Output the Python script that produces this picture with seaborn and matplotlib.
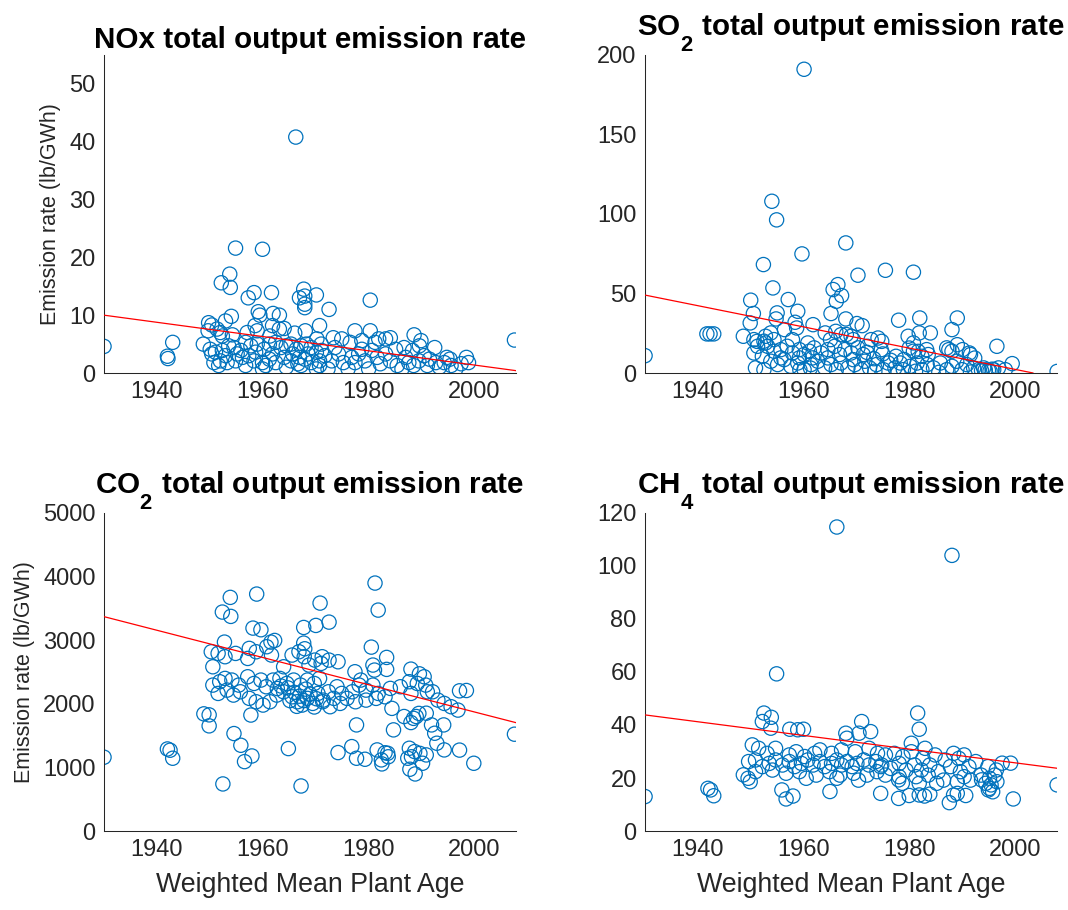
import matplotlib
matplotlib.use("Agg")
import matplotlib.pyplot as plt
import numpy as np
import pandas as pd
import seaborn as sns

# (weighted mean plant age, emission rate in lb/GWh)
nox = [
    (1930.0, 4.6), (1942.0, 2.9), (1942.1, 2.5), (1943.0, 5.3), (1966.3, 40.8),
    (1954.9, 21.6), (1960.0, 21.4), (1953.8, 17.1), (1952.2, 15.6), (1953.9, 14.8),
    (1957.3, 13.0), (1958.4, 13.9), (1961.7, 13.9), (1967.8, 14.5), (1967.0, 13.0),
    (1968.0, 13.3), (1970.2, 13.5), (1968.0, 11.9), (1968.0, 11.3), (1972.6, 11.0),
    (1980.4, 12.6), (1954.1, 9.8), (1953.0, 9.0), (1959.2, 10.6), (1959.5, 10.0),
    (1962.0, 10.3), (1963.2, 10.0), (1970.8, 8.2), (1949.8, 8.7), (1950.4, 8.3),
    (2007.7, 5.7),
    (1951.4, 7.6), (1952.4, 6.4), (1954.3, 6.6), (1957.1, 7.0), (1958.6, 8.2),
    (1959.0, 7.3), (1961.9, 8.2), (1963.2, 7.6), (1964.1, 7.7), (1966.1, 6.9),
    (1968.1, 7.3), (1970.3, 5.9), (1961.4, 6.4), (1949.7, 7.3), (1952.0, 7.0),
    (1948.8, 5.0), (1950.1, 4.1), (1951.1, 3.6), (1952.4, 3.9), (1953.6, 4.7),
    (1954.6, 4.4), (1955.9, 3.9), (1956.8, 5.3), (1957.8, 4.7), (1959.0, 5.0),
    (1960.3, 4.1), (1961.3, 5.0), (1962.5, 5.3), (1963.5, 4.4), (1964.5, 4.7),
    (1965.4, 5.0), (1966.4, 4.1), (1967.3, 4.7), (1968.3, 5.0), (1969.2, 4.4),
    (1970.2, 3.6), (1971.1, 5.0),
    (1950.8, 1.8), (1952.0, 2.1), (1953.3, 1.8), (1954.9, 2.1), (1956.2, 2.7),
    (1957.4, 3.0), (1958.4, 2.1), (1960.0, 1.8), (1961.3, 2.4), (1962.5, 1.8),
    (1964.1, 2.7), (1965.4, 2.1), (1966.7, 1.6), (1968.0, 2.4), (1969.2, 1.8),
    (1970.8, 2.1), (1951.7, 1.3), (1960.0, 0.7), (1964.5, 1.0), (1970.2, 0.7),
    (1953.0, 3.0), (1958.7, 3.6), (1961.9, 3.3), (1965.7, 3.3), (1967.0, 2.7),
    (1968.6, 3.3), (1955.2, 3.3), (1950.4, 3.3), (1960.6, 1.3), (1967.3, 1.3),
    (1956.8, 1.3),
    (1977.5, 7.3), (1980.4, 7.3), (1984.2, 6.1), (1983.3, 5.9), (1988.7, 6.6),
    (1990.0, 5.6), (1989.7, 4.7), (1973.4, 6.1), (1975.0, 5.9), (1976.6, 5.3),
    (1978.8, 5.6), (1981.3, 5.3), (1982.0, 5.9), (1986.8, 4.4), (1992.6, 4.4),
    (1991.6, 2.4), (1994.9, 2.7), (1995.5, 2.4), (1998.6, 2.7), (1999.0, 1.8),
    (1971.2, 3.9), (1971.8, 3.0), (1973.1, 2.1), (1974.4, 3.3), (1975.3, 1.8),
    (1976.9, 2.7), (1977.5, 1.8), (1978.2, 3.3), (1979.4, 2.1), (1980.7, 3.9),
    (1981.7, 2.7), (1982.3, 1.6), (1983.3, 3.3), (1984.2, 2.1), (1985.5, 1.3),
    (1987.1, 2.7), (1987.7, 1.8), (1988.6, 1.3), (1989.6, 2.1), (1990.6, 3.0),
    (1991.2, 1.3), (1992.8, 1.8), (1993.5, 1.0), (1994.4, 1.8), (1995.7, 1.3),
    (1996.6, 0.7), (1997.6, 1.6), (1970.8, 1.3), (1972.4, 0.7), (1976.2, 0.7),
    (1980.1, 0.7), (1986.4, 0.7), (1978.8, 4.1), (1985.2, 4.1), (1988.4, 3.9),
    (1973.7, 4.4),
]

so2 = [
    (1930.0, 10.9), (1941.7, 24.6), (1942.3, 24.6), (1943.0, 24.6), (1960.1, 191.0),
    (1954.0, 108.0), (1954.9, 96.3), (1952.4, 68.2), (1959.7, 74.9), (1968.0, 81.8),
    (1970.3, 61.5), (1975.5, 64.6), (1980.8, 63.4), (1954.2, 53.5), (1950.0, 45.8),
    (1957.1, 46.2), (1965.6, 52.5), (1966.5, 55.6), (1967.2, 48.7), (1966.2, 45.1),
    (1950.5, 37.4), (1949.9, 31.5), (1955.0, 37.8), (1954.8, 34.0), (1958.9, 38.8),
    (1958.4, 31.9), (1958.7, 28.3), (1961.8, 30.4), (1965.2, 37.4), (1968.0, 34.0),
    (1970.1, 31.1), (1971.1, 29.8), (1978.0, 33.2), (1982.0, 34.6), (1984.0, 25.2),
    (1979.8, 23.1), (1981.9, 25.2), (1988.1, 27.3), (1989.1, 34.6), (1996.6, 16.8),
    (1999.5, 5.9), (2008.0, 1.0), (1974.1, 22.0), (1974.8, 19.9), (1948.6, 23.1),
    (1951.2, 19.9), (1953.8, 25.2), (1952.8, 23.1), (1956.4, 27.3), (1964.1, 25.2),
    (1965.1, 21.0), (1966.1, 26.2), (1967.1, 24.1), (1969.0, 23.1), (1980.0, 15.7),
    (1981.7, 13.6), (1983.3, 14.7), (1987.5, 14.7), (1989.1, 17.8), (1990.1, 14.7),
    (1991.4, 12.6), (1992.4, 9.4),
    (1950.6, 21.0), (1952.5, 20.0), (1951.3, 16.8), (1953.2, 16.8), (1950.6, 12.6),
    (1952.2, 10.5), (1954.4, 13.7), (1955.7, 14.7), (1956.9, 16.8), (1957.9, 12.6),
    (1959.2, 14.7), (1960.1, 11.6), (1961.1, 13.7), (1962.0, 15.8), (1963.3, 12.6),
    (1964.6, 14.7), (1965.9, 16.8), (1966.8, 11.6), (1967.8, 14.7), (1969.0, 12.6),
    (1970.3, 15.8), (1971.3, 11.6),
    (1950.9, 3.2), (1952.5, 2.1), (1953.8, 7.4), (1955.1, 5.3), (1956.3, 8.4),
    (1957.6, 4.2), (1958.9, 6.3), (1960.1, 2.1), (1961.4, 5.3), (1962.7, 7.4),
    (1964.0, 3.2), (1965.2, 5.3), (1966.2, 2.1), (1967.1, 6.3), (1968.4, 3.2),
    (1969.7, 5.3), (1970.9, 2.1),
    (1952.8, 18.9), (1954.4, 21.0), (1957.9, 21.0), (1960.8, 18.9), (1968.1, 24.2),
    (1969.4, 21.0), (1961.7, 9.5), (1959.2, 9.5), (1964.6, 9.5), (1969.4, 8.4),
    (1955.7, 9.5), (1959.3, 2.1), (1961.3, 3.1),
    (1980.8, 18.9), (1972.8, 21.0), (1972.1, 16.8), (1974.7, 14.7), (1988.1, 13.7),
    (1991.6, 11.6), (1987.1, 15.8), (1980.8, 13.7), (1982.4, 10.5), (1983.6, 11.6),
    (1972.0, 13.0), (1973.3, 9.0), (1975.0, 12.0), (1976.5, 8.0), (1977.5, 10.5),
    (1979.0, 8.5),
    (1971.6, 7.4), (1972.5, 3.2), (1973.8, 5.3), (1975.1, 2.1), (1976.0, 6.3),
    (1977.3, 3.2), (1978.3, 6.3), (1978.9, 2.1), (1980.2, 4.2), (1981.5, 6.3),
    (1982.4, 2.1), (1983.4, 5.3), (1984.6, 3.2), (1985.9, 6.3), (1987.1, 2.1),
    (1988.1, 4.2), (1989.0, 7.4), (1990.0, 2.1), (1990.9, 5.3), (1992.2, 3.2),
    (1993.1, 2.1), (1994.1, 3.2), (1995.0, 1.7), (1996.0, 2.1), (1996.9, 3.2),
    (1998.2, 2.1), (1973.5, 1.1), (1977.9, 0.4), (1981.2, 1.1), (1985.6, 0.4),
    (1991.6, 0.6), (1993.7, 1.5), (1994.4, 2.0), (1995.3, 1.2), (1995.7, 2.4),
]

co2 = [
    (1930.0, 1160), (1942.0, 1290), (1942.5, 1270), (1943.0, 1144), (1952.5, 740),
    (1967.3, 708), (1964.9, 1296), (1954.6, 1532), (1955.9, 1348), (1956.6, 1091),
    (1958.0, 1180), (1953.9, 3673), (1958.9, 3725), (1970.9, 3583), (1981.3, 3898),
    (1981.9, 3473), (1952.4, 3442), (1954.0, 3374), (1972.6, 3284), (1970.1, 3232),
    (1967.8, 3200), (1958.2, 3190), (1959.7, 3164), (1952.8, 2970), (1961.6, 2970),
    (1962.3, 2996), (1980.6, 2891), (1967.8, 2954), (1968.0, 2865), (1948.9, 1842),
    (1949.9, 1826), (1949.9, 1653), (1977.8, 1668), (1984.8, 1590), (1976.9, 1327),
    (1974.3, 1233), (1977.8, 1144), (1979.4, 1128), (1981.7, 1275), (1982.5, 1118),
    (1982.6, 1055), (1983.7, 1222), (1987.5, 1144), (1987.9, 971), (1988.9, 897),
    (1988.8, 1249), (1990.3, 1065), (1991.0, 1196), (1987.8, 1301), (2000.0, 1065),
    (1994.4, 1275), (1993.0, 1380), (1992.0, 1668), (1992.6, 1537), (1994.3, 1668),
    (2007.7, 1522), (1997.3, 2204), (1998.6, 2209), (1988.1, 2545), (1989.7, 2471),
    (1986.8, 1800), (1988.1, 1705), (1989.1, 1800), (1991.0, 1852),
    (1950.3, 2818), (1951.6, 2792), (1950.6, 2582), (1952.9, 2740), (1954.9, 2792),
    (1957.5, 2871), (1958.8, 2818), (1957.2, 2713), (1960.8, 2897), (1961.7, 2766),
    (1964.0, 2582), (1965.6, 2766), (1966.9, 2818), (1967.9, 2740), (1968.8, 2609),
    (1969.9, 2687), (1971.1, 2635),
    (1950.6, 2294), (1951.9, 2347), (1952.9, 2399), (1954.2, 2373), (1955.5, 2294),
    (1957.2, 2425), (1958.4, 2320), (1959.7, 2373), (1960.7, 2268), (1962.0, 2373),
    (1963.3, 2399), (1964.6, 2320), (1965.9, 2373), (1967.2, 2294), (1968.5, 2373),
    (1969.8, 2320), (1970.8, 2399),
    (1951.6, 2163), (1953.3, 2215), (1954.5, 2137), (1955.8, 2189), (1957.5, 2085),
    (1958.8, 2032), (1960.1, 1980), (1961.4, 2032), (1962.7, 2137), (1964.0, 2189),
    (1965.6, 2110), (1966.6, 2032), (1967.5, 1980), (1968.5, 2085), (1969.5, 2006),
    (1970.5, 2163), (1971.4, 2032), (1957.8, 1823),
    (1964.8, 2250), (1965.2, 2050), (1966.0, 2180), (1966.5, 1960), (1967.0, 2120),
    (1967.8, 2050), (1968.2, 2230), (1969.0, 2150), (1969.8, 1950), (1970.2, 2080),
    (1963.5, 2280), (1962.8, 2240),
    (1983.5, 2729), (1980.9, 2609), (1981.2, 2530), (1983.5, 2541), (1977.5, 2504),
    (1974.3, 2661), (1972.6, 2687), (1971.3, 2740), (1990.6, 2425), (1989.3, 2320),
    (1990.9, 2294), (1991.2, 2189), (1992.2, 2189), (1987.8, 2347), (1988.1, 2163),
    (1986.1, 2268), (1984.2, 2242), (1983.2, 2110), (1981.9, 2163), (1980.9, 2294),
    (1979.6, 2215), (1978.6, 2373), (1978.3, 2294), (1977.0, 2189), (1976.0, 2085),
    (1975.0, 2163), (1974.1, 2268), (1973.5, 2085), (1972.5, 2189), (1971.5, 2058),
    (1972.8, 1954), (1974.7, 2006), (1977.6, 2032), (1979.6, 2058), (1981.5, 2085),
    (1984.5, 1928), (1988.6, 1771), (1989.6, 1849), (1993.2, 2058), (1994.4, 2006),
    (1995.7, 1954), (1997.0, 1901), (1997.3, 1272), (1983.2, 1230), (1983.8, 1167),
    (1988.2, 1167), (1989.8, 1220),
]

ch4 = [
    (1930.0, 13.0), (1941.9, 16.1), (1942.4, 15.5), (1943.0, 13.3), (1966.3, 114.7),
    (1988.1, 104.0), (1954.9, 59.3), (1948.6, 21.2), (1949.5, 19.9), (1949.9, 18.6),
    (1955.9, 15.5), (1956.7, 12.1), (1958.0, 13.2), (1965.0, 14.9), (1974.6, 14.2),
    (1978.0, 12.3), (1980.0, 13.4), (1981.9, 13.6), (1982.9, 13.2), (1983.9, 13.9),
    (1987.6, 10.7), (1989.1, 14.2), (1990.7, 13.4), (1999.7, 12.1), (2008.0, 17.4),
    (1981.6, 44.5), (1981.9, 38.4), (1952.5, 44.5), (1952.2, 41.3), (1953.9, 42.9),
    (1953.8, 38.8), (1971.0, 41.3), (1972.7, 37.5), (1970.5, 36.9), (1968.0, 36.9),
    (1968.2, 35.0), (1957.4, 38.4), (1958.9, 38.2), (1960.0, 38.4), (1997.6, 25.6),
    (1999.2, 25.6), (1996.6, 18.6), (1995.0, 15.5), (1993.7, 19.3), (1985.2, 18.0),
    (1978.0, 19.3), (1988.4, 29.3), (1990.4, 28.7), (1980.4, 33.1), (1983.0, 31.2),
    (1950.3, 32.5), (1951.5, 31.2), (1953.1, 29.3), (1954.7, 31.2), (1957.3, 28.7),
    (1958.6, 29.9), (1960.2, 28.1), (1962.1, 29.3), (1963.1, 30.6), (1965.3, 29.3),
    (1967.2, 30.6), (1969.8, 29.9), (1972.4, 31.2), (1974.0, 29.3),
    (1949.6, 26.2), (1950.9, 26.8), (1952.2, 24.3), (1953.5, 25.5), (1954.7, 26.8),
    (1956.0, 24.9), (1957.3, 26.2), (1958.3, 24.3), (1959.6, 25.5), (1960.8, 26.8),
    (1961.8, 24.9), (1963.1, 26.2), (1964.0, 24.3), (1965.3, 25.5), (1966.3, 26.8),
    (1967.2, 24.9), (1968.2, 26.2), (1969.2, 24.3), (1970.1, 25.5), (1971.4, 26.8),
    (1972.4, 24.9), (1973.7, 26.2), (1974.6, 24.3),
    (1950.9, 22.4), (1954.1, 23.0), (1956.7, 21.8), (1959.2, 22.4), (1962.4, 21.1),
    (1964.9, 22.4), (1966.9, 21.1), (1969.5, 21.8), (1972.0, 21.1), (1973.9, 22.4),
    (1960.5, 19.9), (1966.3, 19.9), (1970.4, 19.2),
    (1975.5, 28.7), (1977.2, 29.3), (1978.8, 28.1), (1980.4, 29.9), (1982.6, 27.4),
    (1984.9, 28.7), (1986.8, 26.8), (1989.4, 27.4), (1992.6, 26.2), (1994.9, 24.3),
    (1996.5, 23.0), (1974.8, 24.9), (1976.5, 23.6), (1978.1, 25.5), (1979.4, 23.0),
    (1981.0, 24.9), (1982.3, 23.0), (1983.9, 24.9), (1985.5, 22.4), (1987.8, 24.3),
    (1989.7, 22.4), (1991.3, 24.3), (1993.6, 21.1), (1995.2, 19.9), (1996.2, 21.1),
    (1975.5, 21.1), (1978.1, 20.5), (1981.3, 20.5), (1983.6, 21.1), (1986.5, 19.2),
    (1989.1, 18.6), (1990.4, 20.5), (1991.6, 19.2), (1994.5, 18.0), (1995.2, 16.1),
    (1995.8, 14.8), (1981.9, 18.0), (1978.7, 18.0), (1988.4, 13.6), (1995.5, 17.4),
]

# Trend lines: fitted rate at the 1930 start year and change per year
trend_at_1930 = [10.0, 49.0, 3370.0, 43.8]
trend_slope = [-0.123, -0.667, -21.37, -0.258]

titles = [
    "NOx total output emission rate",
    r"SO$_\mathbf{2}$ total output emission rate",
    r"CO$_\mathbf{2}$ total output emission rate",
    r"CH$_\mathbf{4}$ total output emission rate",
]
y_ticks = [
    [0, 10, 20, 30, 40, 50],
    [0, 50, 100, 150, 200],
    [0, 1000, 2000, 3000, 4000, 5000],
    [0, 20, 40, 60, 80, 100, 120],
]
y_top = [55, 200, 5000, 120]
year_ticks = [1940, 1960, 1980, 2000]
year_range = (1930, 2008)
x_label = "Weighted Mean Plant Age"
y_label = "Emission rate (lb/GWh)"

sns.set_style("white")
plt.rcParams["font.family"] = ["Liberation Sans", "DejaVu Sans"]
plt.rcParams["mathtext.fontset"] = "custom"
plt.rcParams["mathtext.rm"] = "Liberation Sans"
plt.rcParams["mathtext.bf"] = "Liberation Sans:bold"

# Deeper, larger chemical-formula subscripts in the titles
try:
    import matplotlib._mathtext as _mt
    _mt.FontConstantsBase.sub1 = 0.95
    _mt.SHRINK_FACTOR = 0.75
except Exception:
    pass

ink = "#262626"
fig = plt.figure(figsize=(10.68, 9.10), dpi=100)
boxes = [
    (0.0974, 0.5901, 0.3858, 0.3495),
    (0.6040, 0.5901, 0.3858, 0.3495),
    (0.0974, 0.0868, 0.3858, 0.3495),
    (0.6040, 0.0868, 0.3858, 0.3495),
]

series = [nox, so2, co2, ch4]
for i, box in enumerate(boxes):
    ax = fig.add_axes(box)
    df = pd.DataFrame(series[i], columns=["year", "rate"])
    sns.regplot(
        data=df, x="year", y="rate", ax=ax, fit_reg=False,
        scatter_kws=dict(s=105, facecolors="none", edgecolors="#0072BD",
                         linewidths=0.9, alpha=1, zorder=2),
    )
    ax.axline((year_range[0], trend_at_1930[i]), slope=trend_slope[i],
              color="red", lw=0.9, zorder=3)
    ax.set_xlim(*year_range)
    ax.set_ylim(0, y_top[i])
    ax.set_xticks(year_ticks)
    ax.set_yticks(y_ticks[i])
    ax.tick_params(direction="in", length=5, width=0.75, colors=ink,
                   labelsize=17, labelcolor=ink, pad=6)
    for side in ("top", "right"):
        ax.spines[side].set_visible(False)
    for side in ("left", "bottom"):
        ax.spines[side].set_color(ink)
        ax.spines[side].set_linewidth(0.75)
    ax.set_title(titles[i], fontsize=21.3, fontweight="bold", color="black",
                 pad=1, va="bottom")
    ax.set_xlabel(x_label if i >= 2 else "", fontsize=19.3, color=ink, labelpad=8)
    ax.set_ylabel(y_label if i % 2 == 0 else "", fontsize=15.5, color=ink, labelpad=6)
    ax.set_facecolor("white")

fig.savefig("out.png", dpi=100, facecolor="white")
